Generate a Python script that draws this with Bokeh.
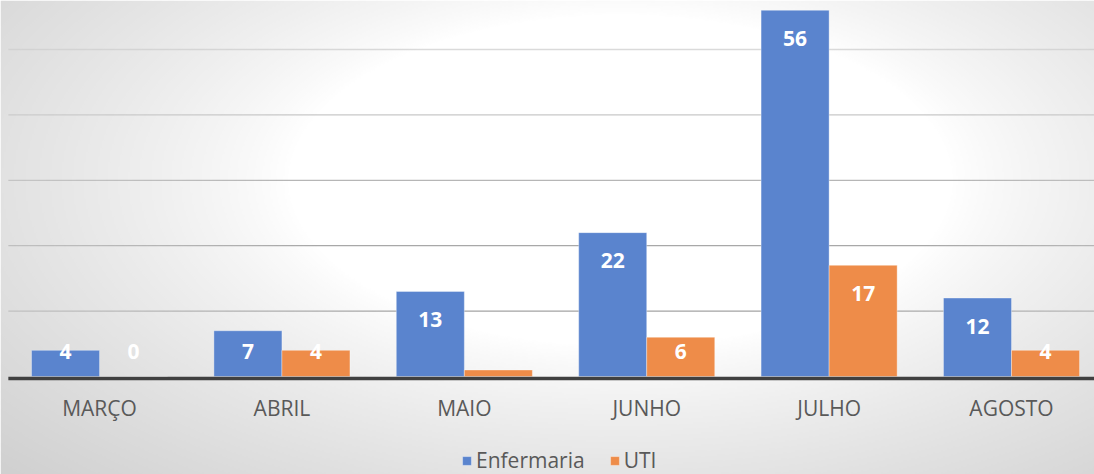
import numpy as np
from bokeh.plotting import figure
from bokeh.models import Range1d, Legend, LegendItem, ColumnDataSource
from bokeh.core.properties import value
from bokeh.embed import file_html
from bokeh.resources import INLINE

# ---------------- data ----------------
months = ["MARÇO", "ABRIL", "MAIO", "JUNHO", "JULHO", "AGOSTO"]
enfermaria = [4, 7, 13, 22, 56, 12]
uti = [0, 4, 1, 6, 17, 4]
enf_labels = [str(v) for v in enfermaria]
uti_labels = ["0", "4", "", "6", "17", "4"]   # label of the small MAIO bar is hidden in the original
series_names = ["Enfermaria", "UTI"]
grid_values = [10, 20, 30, 40, 50]

# ---------------- styling ----------------
BLUE = "#5A84CE"
ORANGE = "#EE8C49"
FONT = "Open Sans"
W, H = 1094, 474
X0, X1 = -0.543, 5.455
Y0, Y1 = -14.98, 57.49
BAR_W = 0.373
px_per_unit = H / (Y1 - Y0)

p = figure(width=W, height=H, output_backend="svg", toolbar_location=None,
           x_range=Range1d(X0, X1), y_range=Range1d(Y0, Y1), min_border=0)
p.xaxis.visible = False
p.yaxis.visible = False
p.grid.visible = False
p.outline_line_color = None
p.background_fill_color = "white"
p.border_fill_color = "white"

# gridlines (darker near the bottom)
grid_colors = ["#a3a3a3", "#a8a8a8", "#b6b6b6", "#c8c8c8", "#dadada"]
p.segment(x0=[-0.5] * len(grid_values), y0=grid_values,
          x1=[X1 + 0.2] * len(grid_values), y1=grid_values,
          line_color=grid_colors, line_width=1.3)

# radial grey overlay (background gradient)
IW, IH = 547, 237
xs_img = (np.arange(IW) + 0.5) / IW * 1094
ys_img = (np.arange(IH) + 0.5) / IH * 474
XX, YY = np.meshgrid(xs_img, ys_img)
d = np.sqrt(((XX - 620) / 600) ** 2 + ((YY - 180) / 300) ** 2)
f = np.clip((d - 0.55) / 0.9, 0, 1) ** 0.8
rgba = np.zeros((IH, IW, 4), dtype=np.uint8)
rgba[..., 0] = 206
rgba[..., 1] = 206
rgba[..., 2] = 206
rgba[..., 3] = (f * 255).astype(np.uint8)
rgba = rgba[::-1].copy()
img = rgba.view(np.uint32).reshape(IH, IW)
p.image_rgba(image=[img], x=X0, y=Y0, dw=X1 - X0, dh=Y1 - Y0)

# bars
xpos = np.arange(len(months))
src = ColumnDataSource(dict(
    xb=xpos - BAR_W / 2, xo=xpos + BAR_W / 2,
    enf=enfermaria, uti=uti,
))
r1 = p.vbar(x="xb", top="enf", bottom=0, width=BAR_W, source=src,
            fill_color=BLUE, line_color="white", line_alpha=0.35, line_width=1)
r2 = p.vbar(x="xo", top="uti", bottom=0, width=BAR_W, source=src,
            fill_color=ORANGE, line_color="white", line_alpha=0.35, line_width=1)

# baseline
p.segment(x0=-0.5, y0=-2.0 / px_per_unit, x1=X1 + 0.2, y1=-2.0 / px_per_unit,
          line_color="#404040", line_width=3.5)

# data labels (inside end, but not below a minimum height)
off = 28.0 / px_per_unit
minh = 25.0 / px_per_unit
enf_ly = np.maximum(np.array(enfermaria) - off, minh)
uti_ly = np.maximum(np.array(uti) - off, minh)
p.text(x=xpos - BAR_W / 2, y=enf_ly, text=enf_labels, text_color="white",
       text_font=value(FONT), text_font_style="bold", text_font_size="21px",
       text_align="center", text_baseline="middle")
p.text(x=xpos + BAR_W / 2, y=uti_ly, text=uti_labels, text_color="white",
       text_font=value(FONT), text_font_style="bold", text_font_size="21px",
       text_align="center", text_baseline="middle")

# category labels
p.text(x=xpos, y=[-4.74] * len(months), text=months, text_color="#595959",
       text_font=value(FONT), text_font_size="21px",
       text_align="center", text_baseline="middle")

legend = Legend(items=[LegendItem(label=series_names[0], renderers=[r1]),
                       LegendItem(label=series_names[1], renderers=[r2])],
                orientation="horizontal", location=(461, 0),
                padding=0, margin=0, spacing=24, label_standoff=4,
                glyph_width=11, glyph_height=11,
                label_text_font=FONT, label_text_font_size="21px",
                label_text_color="#595959",
                background_fill_alpha=0, border_line_alpha=0)
p.add_layout(legend)

open("out.html", "w").write(file_html(p, INLINE))
